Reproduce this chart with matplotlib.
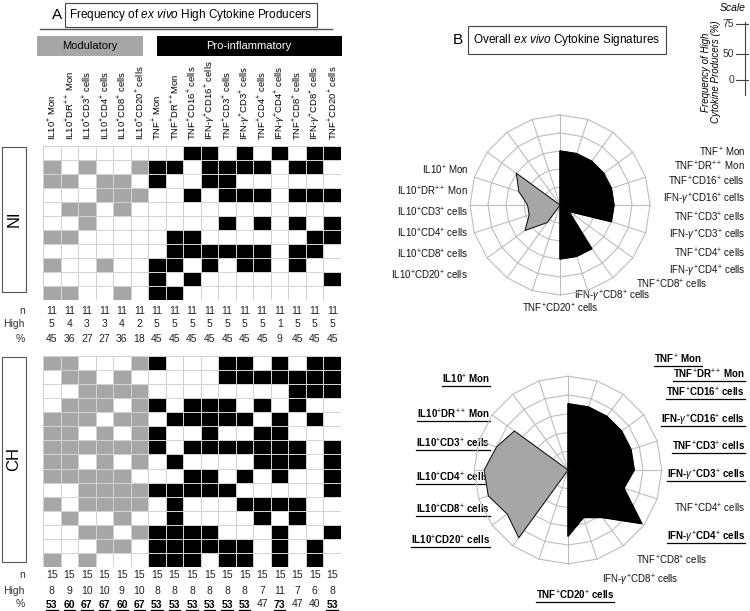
import numpy as np
import matplotlib
matplotlib.use('Agg')
import matplotlib.pyplot as plt
from matplotlib.colors import ListedColormap
from matplotlib.patches import Rectangle

plt.rcParams['font.family'] = 'Liberation Sans'
plt.rcParams['mathtext.fontset'] = 'custom'
plt.rcParams['mathtext.rm'] = 'Liberation Sans'
plt.rcParams['mathtext.it'] = 'Liberation Sans:italic'
plt.rcParams['mathtext.bf'] = 'Liberation Sans:bold'

# ---- data ----
columns = [r'IL10$^{+}$ Mon', r'IL10$^{+}$DR$^{++}$ Mon', r'IL10$^{+}$CD3$^{+}$ cells',
           r'IL10$^{+}$CD4$^{+}$ cells', r'IL10$^{+}$CD8$^{+}$ cells', r'IL10$^{+}$CD20$^{+}$ cells',
           r'TNF$^{+}$ Mon', r'TNF$^{+}$DR$^{++}$Mon', r'TNF$^{+}$CD16$^{+}$ cells',
           r'IFN-$\gamma^{+}$CD16$^{+}$ cells', r'TNF$^{+}$CD3$^{+}$ cells', r'IFN-$\gamma^{+}$CD3$^{+}$ cells',
           r'TNF$^{+}$CD4$^{+}$ cells', r'IFN-$\gamma^{+}$CD4$^{+}$ cells', r'TNF$^{+}$CD8$^{+}$ cells',
           r'IFN-$\gamma^{+}$CD8$^{+}$ cells', r'TNF$^{+}$CD20$^{+}$ cells']
radar_names = [r'TNF$^{+}$ Mon', r'TNF$^{+}$DR$^{++}$ Mon', r'TNF$^{+}$CD16$^{+}$ cells',
               r'IFN-$\gamma^{+}$CD16$^{+}$ cells', r'TNF$^{+}$CD3$^{+}$ cells', r'IFN-$\gamma^{+}$CD3$^{+}$ cells',
               r'TNF$^{+}$CD4$^{+}$ cells', r'IFN-$\gamma^{+}$CD4$^{+}$ cells', r'TNF$^{+}$CD8$^{+}$ cells',
               r'IFN-$\gamma^{+}$CD8$^{+}$ cells', r'TNF$^{+}$CD20$^{+}$ cells',
               r'IL10$^{+}$CD20$^{+}$ cells', r'IL10$^{+}$CD8$^{+}$ cells', r'IL10$^{+}$CD4$^{+}$ cells',
               r'IL10$^{+}$CD3$^{+}$ cells', r'IL10$^{+}$DR$^{++}$ Mon', r'IL10$^{+}$ Mon']
n_modulatory = 6

# high producers per patient (row) -> column indices
ni_high = [
    [8, 9, 11, 13, 15, 16],
    [0, 2, 5, 6, 7, 9, 10, 11, 12, 14, 15],
    [0, 1, 3, 4, 6, 9, 10],
    [3, 4, 5, 8, 10, 11, 12, 14, 15, 16],
    [1, 2, 4],
    [2, 10, 12, 14, 16],
    [0, 1, 7, 8, 15, 16],
    [7, 8, 9, 10, 11, 12, 14, 15],
    [0, 3, 6, 7, 9, 11, 12, 14],
    [6, 8, 16],
    [0, 1, 4, 6, 7],
]
ch_high = [
    [0, 1, 5, 6, 10, 11, 13, 15, 16],
    [1, 2, 4, 10, 11, 12, 13, 14, 15, 16],
    [2, 3, 4, 5, 14, 15, 16],
    [1, 2, 3, 5, 6, 8, 9, 10, 12, 14],
    [0, 1, 2, 4, 5, 7, 8, 9, 10, 11, 13, 15],
    [0, 1, 3, 5, 6, 9, 12, 13],
    [0, 1, 2, 3, 4, 5, 6, 8, 9, 10, 11, 12, 13, 14, 16],
    [0, 1, 3, 5, 7, 12, 13, 14, 16],
    [0, 1, 2, 3, 4, 8, 9, 11, 13, 16],
    [2, 3, 4, 5, 6, 7, 8, 9, 10, 16],
    [0, 2, 3, 4, 5, 7, 11, 12, 13, 14],
    [1, 4, 7, 12, 14],
    [2, 3, 5, 6, 7, 8, 9, 13, 16],
    [3, 4, 6, 7, 8, 9, 10, 11, 13, 15],
    [0, 2, 6, 7, 8, 10, 11, 13, 15],
]

# radar: 20 spoke slots, pro-inflammatory on 0..10, modulatory on 12..17
spoke_slots = list(range(11)) + [12, 13, 14, 15, 16, 17]
n_slots = 20
ring_levels = [15, 30, 45, 60, 75]

# label anchors (ha, x, y) in pixels, same order as radar_names
top_label_pos = [('right', 745, 152), ('right', 745, 166), ('right', 745, 181), ('right', 745, 199),
                 ('right', 745, 217), ('right', 745, 235), ('right', 745, 253), ('right', 745, 271),
                 ('center', 672, 284), ('center', 612, 296), ('center', 560, 308),
                 ('right', 468, 275), ('right', 468, 254), ('right', 468, 233), ('right', 468, 212),
                 ('right', 468, 191), ('right', 468, 170)]
bot_label_pos = [('right', 702, 360), ('right', 745, 375), ('right', 745, 393), ('right', 745, 420),
                 ('right', 745, 447), ('right', 745, 475), ('right', 745, 508), ('right', 745, 537),
                 ('center', 672, 560), ('center', 640, 580), ('center', 575, 596),
                 ('right', 490, 541), ('right', 490, 510), ('right', 490, 478), ('right', 490, 444),
                 ('right', 490, 415), ('right', 490, 380)]


def to_matrix(rows):
    m = np.zeros((len(rows), len(columns)))
    for r, cols in enumerate(rows):
        for c in cols:
            m[r, c] = 1 if c < n_modulatory else 2
    return m


ni = to_matrix(ni_high)
ch = to_matrix(ch_high)

W, H = 750, 611
fig = plt.figure(figsize=(7.5, 6.11), dpi=100)
renderer = fig.canvas.get_renderer()


def box(x0, y0, x1, y1):
    return [x0 / W, 1 - y1 / H, (x1 - x0) / W, (y1 - y0) / H]


over = fig.add_axes([0, 0, 1, 1])
over.set_xlim(0, W)
over.set_ylim(H, 0)
over.axis('off')


def underlined(x, y, s, ha, size):
    # bold text on a baseline, with a rule just below it
    t = over.text(x, y + 3.5, s, ha=ha, va='baseline', fontsize=size, fontweight='bold', color='black')
    bb = t.get_window_extent(renderer=renderer)
    inv = over.transData.inverted()
    (x0, _), (x1, _) = inv.transform([(bb.x0, bb.y0), (bb.x1, bb.y1)])
    over.plot([x0, x1], [y + 5.5, y + 5.5], color='black', lw=0.9)


cmap = ListedColormap(['white', '#a6a6a6', 'black'])
gx0, gx1 = 43, 341
cw = (gx1 - gx0) / len(columns)


def heat(mat, y0, y1, top_labels):
    ax = fig.add_axes(box(gx0, y0, gx1, y1))
    ax.pcolormesh(mat, cmap=cmap, vmin=0, vmax=2, edgecolors='#d2d2d2', linewidth=0.5)
    ax.set_ylim(mat.shape[0], 0)
    ax.set_xlim(0, mat.shape[1])
    for s in ax.spines.values():
        s.set_visible(False)
    ax.set_yticks([])
    if top_labels:
        ax.xaxis.tick_top()
        ax.set_xticks(np.arange(len(columns)) + 0.5)
        ax.set_xticklabels(columns, rotation=90, fontsize=6.8)
        ax.tick_params(axis='x', length=0, pad=4)
    else:
        ax.set_xticks([])
    return ax


heat(ni, 146, 300, True)
heat(ch, 356, 567, False)


def stats(mat, ys):
    n = mat.shape[0]
    high = (mat > 0).sum(axis=0)
    pct = np.round(100 * high / n).astype(int)
    for lab, y in zip(['n', 'High', '%'], ys):
        over.text(25, y, lab, ha='right', va='center', fontsize=7.5, color='#333333')
    for i in range(len(columns)):
        x = gx0 + (i + 0.5) * cw
        over.text(x, ys[0], str(n), ha='center', va='center', fontsize=7.5, color='#222222')
        over.text(x, ys[1], str(high[i]), ha='center', va='center', fontsize=7.5, color='#222222')
        if pct[i] >= 50:
            underlined(x, ys[2], str(pct[i]), 'center', 7.5)
        else:
            over.text(x, ys[2], str(pct[i]), ha='center', va='center', fontsize=7.5, color='#222222')
    return pct


ni_pct = stats(ni, [311, 324, 339])
ch_pct = stats(ch, [575, 591, 604])

# group boxes
over.add_patch(Rectangle((2, 147), 24, 145, fill=False, ec='#555555', lw=0.8))
over.text(14, 219, 'NI', rotation=90, ha='center', va='center', fontsize=12)
over.add_patch(Rectangle((2, 357), 24, 205, fill=False, ec='#555555', lw=0.8))
over.text(14, 459, 'CH', rotation=90, ha='center', va='center', fontsize=12)

# header of panel A
over.text(57, 15, 'A', ha='center', va='center', fontsize=11)
over.text(191, 15, r'Frequency of $\it{ex\ vivo}$ High Cytokine Producers', ha='center', va='center',
          fontsize=8.5, bbox=dict(boxstyle='square,pad=0.35', fc='white', ec='#444444', lw=0.8))
over.plot([40, 332], [29, 29], color='#555555', lw=1)
over.add_patch(Rectangle((37, 36), 106, 20, fc='#a6a6a6', ec='none'))
over.text(90, 46, 'Modulatory', ha='center', va='center', fontsize=8)
over.add_patch(Rectangle((157, 36), 185, 20, fc='black', ec='none'))
over.text(249, 46, 'Pro-inflammatory', ha='center', va='center', fontsize=8, color='white')

# panel B header
over.text(458, 40, 'B', ha='center', va='center', fontsize=11)
over.text(567, 40, r'Overall $\it{ex\ vivo}$ Cytokine Signatures', ha='center', va='center',
          fontsize=8.5, bbox=dict(boxstyle='square,pad=0.5', fc='white', ec='#444444', lw=0.8))

# scale
over.text(733, 8, 'Scale', ha='center', va='center', fontsize=7.5, style='italic')
over.plot([745, 745], [22, 95], color='#444444', lw=0.8)
for v, y in [('75', 24), ('50', 54), ('0', 80)]:
    over.plot([736, 748], [y, y], color='#444444', lw=0.8)
    over.text(734, y, v, ha='right', va='center', fontsize=7.5, color='#333333')
over.text(711, 72, 'Frequency of High\nCytokine Producers (%)', rotation=90, ha='center', va='center',
          fontsize=7, style='italic', linespacing=0.95)

# radars
slot_ang = np.arange(n_slots) * 2 * np.pi / n_slots


def radar(pct, cx, cy, k, label_pos, bold):
    R = max(ring_levels)
    half = 118
    ax = fig.add_axes(box(cx - half, cy - half, cx + half, cy + half))
    ax.set_xlim(-half / k, half / k)
    ax.set_ylim(-half / k, half / k)
    ax.axis('off')
    vals = np.concatenate([pct[n_modulatory:], pct[:n_modulatory][::-1]])
    ang = slot_ang[spoke_slots]
    closed = np.append(slot_ang, slot_ang[0])
    for r in ring_levels:
        ax.plot(r * np.sin(closed), r * np.cos(closed), color='#bdbdbd', lw=0.8, zorder=1)
    for a in slot_ang:
        ax.plot([0, R * np.sin(a)], [0, R * np.cos(a)], color='#bdbdbd', lw=0.8, zorder=1)
    n_pro = len(columns) - n_modulatory
    for idx, col in [(range(n_pro), 'black'), (range(n_pro, len(vals)), '#a6a6a6')]:
        xs = [0] + [vals[i] * np.sin(ang[i]) for i in idx] + [0]
        ys = [0] + [vals[i] * np.cos(ang[i]) for i in idx] + [0]
        ax.fill(xs, ys, color=col, zorder=2)
        ax.plot(xs, ys, color='black', lw=0.6, zorder=3)
    for i, (lab, (ha, x, y)) in enumerate(zip(radar_names, label_pos)):
        if bold and vals[i] >= 50:
            underlined(x, y, lab, ha, 7)
        else:
            over.text(x, y, lab, ha=ha, va='center', fontsize=7, color='#111111')


radar(ni_pct, 560, 205, 1.2, top_label_pos, False)
radar(ch_pct, 568, 470, 1.25, bot_label_pos, True)

fig.savefig('out.png', dpi=100)
